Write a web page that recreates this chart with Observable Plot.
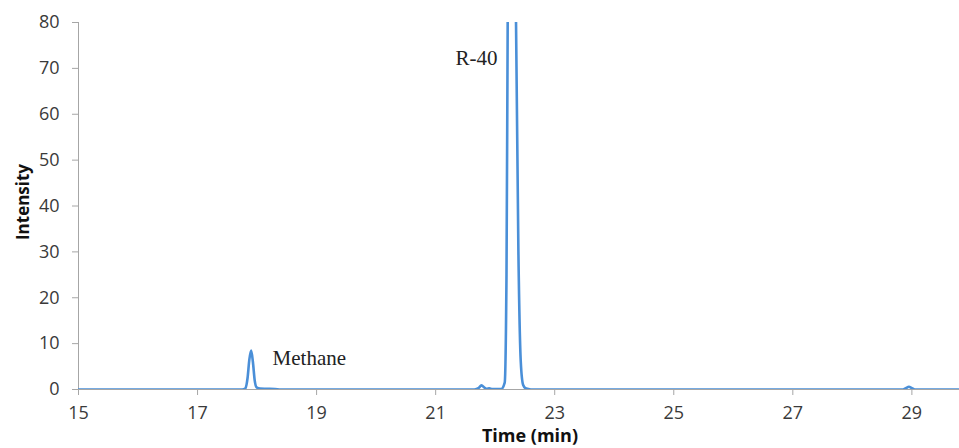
<!DOCTYPE html>
<html>
<head>
<meta charset="utf-8">
<script src="https://cdn.jsdelivr.net/npm/d3@7"></script>
<script src="https://cdn.jsdelivr.net/npm/@observablehq/plot@0.6"></script>
<style>
  html, body { margin: 0; padding: 0; background: #fff; }
  #chart svg { display: block; }
</style>
</head>
<body>
<div id="chart"></div>
<script>
// Chromatogram trace (time in min, intensity)
const timeMin = [15, 17.75, 17.8, 17.84, 17.87, 17.9, 17.93, 17.96, 17.99, 18.05, 18.15, 18.3, 18.4,
  21.65, 21.72, 21.77, 21.82, 21.86, 21.9, 21.95, 22.1, 22.16, 22.19, 22.21, 22.24, 22.28, 22.32,
  22.35, 22.39, 22.43, 22.47, 22.52, 22.6, 28.85, 28.9, 28.95, 29.0, 29.05, 29.8];
const intensity = [0, 0, 0.2, 2.5, 6.5, 8.5, 6, 2, 0.5, 0.2, 0.15, 0.1, 0,
  0, 0.3, 0.9, 0.4, 0.15, 0.25, 0.1, 0.1, 1.5, 25, 80, 140, 165, 140,
  80, 30, 6, 1, 0.2, 0, 0, 0.3, 0.6, 0.3, 0, 0];

const xTicks = [15, 17, 19, 21, 23, 25, 27, 29];
const yTicks = [0, 10, 20, 30, 40, 50, 60, 70, 80];

const peakLabels = ["Methane", "R-40"];
const peakLabelX = [18.26, 22.04];
const peakLabelY = [6.8, 72.2];
const peakLabelAnchor = ["start", "end"];

const trace = timeMin.map((t, i) => ({t, v: intensity[i]}));
const labels = peakLabels.map((s, i) => ({s, x: peakLabelX[i], y: peakLabelY[i], a: peakLabelAnchor[i]}));

const axisColor = "#a6a6a6";
const textColor = "#3a3a3a";
const sans = "'Open Sans', 'Liberation Sans', sans-serif";

const chart = Plot.plot({
  width: 959,
  height: 448,
  marginLeft: 78,
  marginRight: 0,
  marginTop: 22,
  marginBottom: 59,
  style: {fontFamily: sans, fontSize: "18px", color: textColor, background: "#fff"},
  x: {domain: [15, 29.8]},
  y: {domain: [0, 80]},
  marks: [
    Plot.ruleY([0], {stroke: axisColor, strokeWidth: 1}),
    Plot.ruleX([15], {y1: 0, y2: 80, stroke: axisColor, strokeWidth: 1}),
    Plot.axisY({ticks: yTicks, tickSize: 6, tickPadding: 13, stroke: axisColor, label: null, fill: textColor}),
    Plot.axisX({ticks: xTicks, tickSize: 6, tickPadding: 11, stroke: axisColor, label: null, fill: textColor}),
    Plot.line(trace, {x: "t", y: "v", stroke: "#4a8fd8", strokeWidth: 2.6, clip: true, curve: "monotone-x"}),
    Plot.text(labels.filter(d => d.a === "start"), {x: "x", y: "y", text: "s", textAnchor: "start",
      fontFamily: "'Liberation Serif', 'Times New Roman', serif", fontSize: 21, fill: "#222"}),
    Plot.text(labels.filter(d => d.a === "end"), {x: "x", y: "y", text: "s", textAnchor: "end",
      fontFamily: "'Liberation Serif', 'Times New Roman', serif", fontSize: 21, fill: "#222"})
  ]
});

// axis titles
const svg = d3.select(chart);
svg.append("text")
  .attr("transform", "translate(29,202) rotate(-90)")
  .attr("text-anchor", "middle")
  .attr("font-family", sans)
  .attr("font-weight", "bold")
  .attr("font-size", 17)
  .attr("fill", "#111")
  .text("Intensity");
svg.append("text")
  .attr("x", 530)
  .attr("y", 442)
  .attr("text-anchor", "middle")
  .attr("font-family", sans)
  .attr("font-weight", "bold")
  .attr("font-size", 18)
  .attr("fill", "#111")
  .text("Time (min)");

document.getElementById("chart").appendChild(chart);
</script>
</body>
</html>
